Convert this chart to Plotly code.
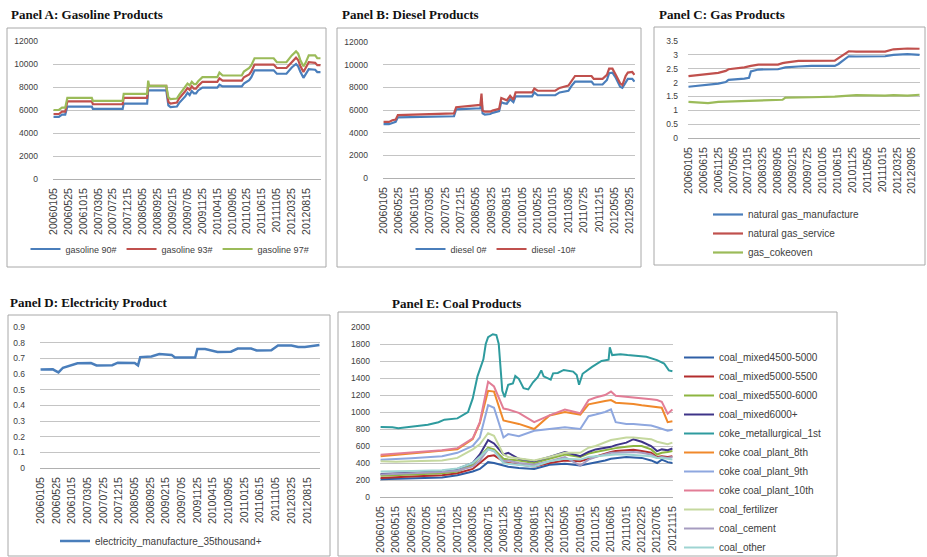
import plotly.graph_objects as go

W, H = 927, 557


def dekads(first, last):
    """Category labels of the dekadal observation dates (05, 15, 25 of each month)."""
    out = []
    for k in range(first, last + 1):
        yr = 2006 + k // 36
        r = k % 36
        out.append(f"{yr}{r // 3 + 1:02d}{(5, 15, 25)[r % 3]:02d}")
    return out


# ---------------- categories and tick labels ----------------
cats_A = dekads(0, 251)
gap_B = ["20080515", "20080525", "20080605", "20080615", "20080625", "20090105", "20090115",
         "20090125", "20090205", "20090215", "20090225", "20090305", "20090315"]
cats_B = dekads(0, 84) + gap_B + dekads(116, 246)
cats_C = dekads(0, 248)
cats_D = dekads(0, 249)
cats_E = dekads(0, 247)

ticks_A = ["20060105", "20060525", "20061015", "20070305", "20070725", "20071215", "20080505",
           "20080925", "20090215", "20090705", "20091125", "20100415", "20100905", "20110125",
           "20110615", "20111105", "20120325", "20120815"]
ticks_B = ["20060105", "20060525", "20061015", "20070305", "20070725", "20071215", "20080505",
           "20090325", "20090815", "20100105", "20100525", "20101015", "20110305", "20110725",
           "20111215", "20120505", "20120925"]
ticks_C = ["20060105", "20060615", "20061125", "20070505", "20071015", "20080325", "20080905",
           "20090215", "20090725", "20100105", "20100615", "20101125", "20110505", "20111015",
           "20120325", "20120905"]
ticks_D = ticks_A
ticks_E = ["20060105", "20060515", "20060925", "20070205", "20070615", "20071025", "20080305",
           "20080715", "20081125", "20090405", "20090815", "20091225", "20100505", "20100915",
           "20110125", "20110605", "20111015", "20120225", "20120705", "20121115"]

# ---------------- Panel A: gasoline ----------------
gas_dates = ["20060105", "20060225", "20060325", "20060425", "20060515", "20070105", "20070115",
             "20071025", "20071105", "20080615", "20080625", "20080705", "20081215", "20090105",
             "20090125", "20090325", "20090415", "20090615", "20090705", "20090725", "20090815",
             "20090905", "20090925", "20091015", "20091125", "20100415", "20100505", "20100605",
             "20101205", "20101225", "20110215", "20110305", "20110405", "20111005", "20111105",
             "20120205", "20120305", "20120325", "20120505", "20120525", "20120615", "20120715",
             "20120805", "20120905", "20121105", "20121125", "20121225"]
gasoline_90 = [5400, 5400, 5600, 5600, 6300, 6300, 6100, 6100, 6550, 6550, 7700, 7700, 7700, 6400,
               6250, 6300, 6600, 7200, 7500, 7300, 7650, 7450, 7450, 7700, 7950, 7950, 8200, 8050,
               8050, 8300, 8600, 8850, 9450, 9450, 9150, 9150, 9450, 9700, 10000, 9800, 9350, 8800,
               9100, 9550, 9500, 9300, 9300]
gasoline_93 = [5650, 5650, 5850, 5850, 6750, 6750, 6500, 6500, 7050, 7050, 8100, 8100, 8100, 6700,
               6550, 6650, 7000, 7650, 7900, 7750, 8050, 7850, 7850, 8100, 8450, 8450, 8750, 8550,
               8550, 8850, 9100, 9350, 9950, 9950, 9650, 9650, 9950, 10200, 10550, 10350, 9850,
               9300, 9600, 10150, 10100, 9900, 9900]
gasoline_97 = [6000, 6000, 6200, 6200, 7050, 7050, 6800, 6800, 7400, 7400, 8550, 8100, 8100, 7100,
               6950, 7000, 7300, 8000, 8300, 8150, 8450, 8250, 8250, 8500, 8850, 8850, 9250, 9000,
               9000, 9350, 9650, 9900, 10500, 10500, 10150, 10150, 10500, 10750, 11100, 10900,
               10350, 9800, 10100, 10750, 10750, 10500, 10500]

# ---------------- Panel B: diesel ----------------
diesel_dates = ["20060105", "20060225", "20060325", "20060425", "20060515", "20071015", "20071105",
                "20080615", "20080625", "20090105", "20090125", "20090315", "20090405", "20090605",
                "20090625", "20090715", "20090815", "20090915", "20091015", "20091105", "20100405",
                "20100425", "20100525", "20101105", "20101215", "20110305", "20110405", "20110505",
                "20111005", "20111025", "20120115", "20120225", "20120315", "20120415", "20120515",
                "20120625", "20120715", "20120815", "20120905", "20121015", "20121105"]
diesel_0 = [4750, 4750, 4850, 4950, 5350, 5450, 6050, 6150, 7000, 5700, 5600, 5650, 5750, 5900,
            6700, 6600, 6550, 6950, 6700, 7200, 7200, 7550, 7300, 7300, 7550, 7700, 8150, 8500,
            8500, 8250, 8250, 8650, 9250, 9300, 8850, 8050, 7950, 8500, 8750, 8750, 8500]
diesel_m10 = [4950, 4950, 5100, 5150, 5550, 5700, 6250, 6450, 7450, 5950, 5850, 5850, 5950, 6100,
              7050, 6950, 6850, 7250, 6900, 7550, 7550, 7900, 7700, 7700, 7950, 8150, 8600, 9000,
              9000, 8750, 8750, 9100, 9650, 9650, 9100, 8350, 8200, 9000, 9300, 9350, 9100]

# ---------------- Panel C: gas ----------------
ng_dates = ["20060105", "20060805", "20061125", "20070215", "20070315", "20070905", "20071025",
            "20071115", "20080205", "20080905", "20081025", "20081125", "20090415", "20090905",
            "20100515", "20100625", "20101015", "20110105", "20111115", "20120215", "20120715",
            "20121125"]
ng_manufacture = [1.85, 1.92, 1.96, 2.02, 2.10, 2.14, 2.17, 2.40, 2.47, 2.48, 2.52, 2.55, 2.58, 2.60,
                  2.60, 2.67, 2.95, 2.94, 2.95, 3.00, 3.03, 3.00]
ng_service = [2.23, 2.30, 2.35, 2.42, 2.48, 2.55, 2.57, 2.60, 2.65, 2.65, 2.70, 2.72, 2.78, 2.79,
              2.79, 2.88, 3.13, 3.12, 3.12, 3.20, 3.23, 3.22]
gas_cokeoven = [1.30, 1.26, 1.30, 1.31, 1.32, 1.34, 1.34, 1.34, 1.35, 1.36, 1.38, 1.46, 1.46, 1.47,
                1.49, 1.50, 1.53, 1.55, 1.53, 1.55, 1.53, 1.56]

# ---------------- Panel D: electricity ----------------
elec_dates = ["20060105", "20060425", "20060515", "20060615", "20060725", "20060925", "20061205",
              "20070405", "20070525", "20071015", "20071205", "20080505", "20080605", "20080625",
              "20081005", "20081215", "20090405", "20090505", "20091105", "20091125", "20100205",
              "20100525", "20100925", "20101125", "20110325", "20110515", "20110925", "20111125",
              "20120325", "20120525", "20120725", "20121205"]
electricity = [0.628, 0.630, 0.622, 0.610, 0.640, 0.655, 0.668, 0.670, 0.655, 0.656, 0.672, 0.670,
               0.655, 0.708, 0.712, 0.728, 0.722, 0.705, 0.705, 0.760, 0.760, 0.740, 0.742, 0.762,
               0.762, 0.750, 0.752, 0.782, 0.782, 0.772, 0.772, 0.785]

# ---------------- Panel E: coal ----------------
coal_dates = ["20060105", "20060515", "20060925", "20070615", "20071025", "20080305", "20080505",
              "20080715", "20080905", "20081125", "20090105", "20090405", "20090815", "20091225",
              "20100505", "20100915", "20101125", "20110125", "20110415", "20110605", "20110715",
              "20111015", "20111215", "20120225", "20120515", "20120705", "20120815", "20121005",
              "20121115"]
coal_mixed4500 = [210, 215, 220, 230, 255, 300, 330, 410, 400, 370, 355, 340, 330, 380, 390, 370,
                  390, 400, 430, 450, 455, 470, 465, 460, 430, 400, 440, 410, 400]
coal_mixed5000 = [225, 230, 240, 255, 280, 330, 400, 480, 490, 420, 400, 380, 360, 400, 430, 420,
                  450, 480, 510, 530, 540, 550, 555, 540, 520, 470, 480, 470, 480]
coal_mixed5500 = [250, 255, 265, 280, 300, 380, 470, 580, 560, 450, 440, 430, 400, 450, 500, 470,
                  510, 530, 550, 570, 575, 590, 600, 600, 560, 500, 520, 530, 540]
coal_mixed6000 = [270, 275, 285, 305, 330, 400, 500, 670, 630, 500, 520, 450, 420, 470, 530, 480,
                  530, 560, 580, 590, 610, 640, 680, 650, 600, 540, 560, 550, 570]
coke_plant_8th = [480, 495, 510, 540, 560, 680, 870, 1250, 1240, 900, 890, 860, 800, 960, 1000, 970,
                  1090, 1110, 1130, 1140, 1110, 1100, 1095, 1080, 1070, 1060, 1050, 880, 890]
coke_plant_9th = [437, 445, 455, 480, 520, 600, 700, 1080, 1050, 700, 740, 715, 780, 800, 820, 800,
                  950, 970, 1000, 1030, 880, 860, 860, 850, 840, 820, 800, 780, 790]
coke_plant_10th = [496, 510, 525, 550, 575, 690, 880, 1355, 1300, 1040, 1030, 990, 880, 960, 1030,
                   985, 1140, 1170, 1200, 1240, 1190, 1180, 1170, 1160, 1150, 1140, 1120, 980, 1030]
coal_fertilizer = [420, 415, 420, 430, 460, 560, 620, 750, 720, 500, 470, 450, 430, 470, 520, 520,
                   580, 600, 640, 670, 680, 700, 700, 690, 680, 650, 640, 620, 640]
coal_cement = [265, 270, 280, 295, 310, 360, 430, 560, 540, 420, 430, 400, 380, 420, 470, 370, 440,
               470, 500, 520, 520, 530, 530, 520, 500, 460, 470, 460, 470]
coal_other = [300, 300, 305, 315, 335, 400, 470, 560, 540, 400, 390, 380, 360, 420, 450, 440, 470,
              480, 490, 500, 500, 500, 495, 490, 480, 460, 460, 450, 440]

coke_dates = ["20060105", "20060415", "20060605", "20060925", "20070215", "20070515", "20070705",
              "20071025", "20071215", "20080125", "20080305", "20080415", "20080605", "20080625",
              "20080715", "20080825", "20080925", "20081015", "20081115", "20081205", "20090105",
              "20090215", "20090305", "20090405", "20090515", "20090625", "20090805", "20090915",
              "20091015", "20091105", "20100105", "20100125", "20100305", "20100425", "20100715",
              "20100815", "20100905", "20101005", "20101225", "20110315", "20110515", "20110525",
              "20110615", "20110825", "20111025", "20120405", "20120705", "20120905", "20121015",
              "20121115"]
coke_metallurgical = [825, 820, 808, 830, 850, 880, 910, 925, 965, 1000, 1160, 1420, 1620, 1800,
                      1880, 1915, 1905, 1800, 1250, 1175, 1320, 1335, 1425, 1390, 1280, 1265, 1350,
                      1410, 1490, 1420, 1380, 1455, 1460, 1495, 1475, 1435, 1320, 1450, 1530, 1600,
                      1615, 1760, 1670, 1680, 1670, 1650, 1610, 1570, 1490, 1480]

# ---------------- colours ----------------
BLUE, RED, GREEN = "#4A7EBB", "#C0504D", "#9BBB59"
coal_colors = {
    "coal_mixed4500-5000": "#2F5FA6",
    "coal_mixed5000-5500": "#B32D2D",
    "coal_mixed5500-6000": "#8DB540",
    "coal_mixed6000+": "#3E3488",
    "coke_metallurgical_1st": "#2E9B9E",
    "coke coal_plant_8th": "#F0892B",
    "coke coal_plant_9th": "#8EA7DF",
    "coke coal_plant_10th": "#E27D96",
    "coal_fertilizer": "#C5D89E",
    "coal_cement": "#A69CC0",
    "coal_other": "#9ED4D2",
}

fig = go.Figure()


def add(x, y, name, color, xa, ya, legend, width=2.2):
    fig.add_trace(go.Scatter(x=x, y=y, name=name, mode="lines", xaxis=xa, yaxis=ya,
                             legend=legend, line=dict(color=color, width=width),
                             hoverinfo="skip"))


add(gas_dates, gasoline_90, "gasoline 90#", BLUE, "x", "y", "legend")
add(gas_dates, gasoline_93, "gasoline 93#", RED, "x", "y", "legend")
add(gas_dates, gasoline_97, "gasoline 97#", GREEN, "x", "y", "legend")

add(diesel_dates, diesel_0, "diesel 0#", BLUE, "x2", "y2", "legend2")
add(diesel_dates, diesel_m10, "diesel -10#", RED, "x2", "y2", "legend2")

add(ng_dates, ng_manufacture, "natural gas_manufacture", BLUE, "x3", "y3", "legend3")
add(ng_dates, ng_service, "natural gas_service", RED, "x3", "y3", "legend3")
add(ng_dates, gas_cokeoven, "gas_cokeoven", GREEN, "x3", "y3", "legend3")

add(elec_dates, electricity, "electricity_manufacture_35thousand+", BLUE, "x4", "y4", "legend4",
    width=2.5)

coal_series = [
    ("coal_mixed4500-5000", coal_dates, coal_mixed4500),
    ("coal_mixed5000-5500", coal_dates, coal_mixed5000),
    ("coal_mixed5500-6000", coal_dates, coal_mixed5500),
    ("coal_mixed6000+", coal_dates, coal_mixed6000),
    ("coke_metallurgical_1st", coke_dates, coke_metallurgical),
    ("coke coal_plant_8th", coal_dates, coke_plant_8th),
    ("coke coal_plant_9th", coal_dates, coke_plant_9th),
    ("coke coal_plant_10th", coal_dates, coke_plant_10th),
    ("coal_fertilizer", coal_dates, coal_fertilizer),
    ("coal_cement", coal_dates, coal_cement),
    ("coal_other", coal_dates, coal_other),
]
for name, xs, ys in coal_series:
    add(xs, ys, name, coal_colors[name], "x5", "y5", "legend5", width=2.0)


# ---------------- layout ----------------
def xd(a, b):
    return [a / W, b / W]


def yd(top, bottom):
    return [1 - bottom / H, 1 - top / H]


TICK = dict(family="Liberation Sans", size=8.5, color="#404040")
DATE = dict(family="Liberation Sans", size=10.5, color="#404040")
LEG = dict(family="Liberation Sans", size=10, color="#404040")


def xaxis(dom, cats, ticks, anchor):
    return dict(domain=dom, anchor=anchor, type="category", categoryorder="array",
                categoryarray=cats, range=[-0.5, len(cats) - 0.5], tickmode="array",
                tickvals=ticks, ticktext=ticks, tickangle=-90, tickfont=DATE, showgrid=False,
                zeroline=False, showline=True, linecolor="#B0B0B0", linewidth=1, ticks="",
                ticklabelstandoff=4, fixedrange=True)


def yaxis(dom, rng, dtick, anchor, fmt="", standoff=14):
    return dict(domain=dom, anchor=anchor, range=rng, dtick=dtick, tick0=0, showgrid=True,
                gridcolor="#C4C4C4", gridwidth=1, zeroline=False, showline=False, ticks="",
                tickformat=fmt, tickfont=TICK, ticklabelstandoff=standoff, fixedrange=True)


boxes = [(7, 28, 326, 267), (337, 28, 641, 267), (654, 27, 925, 265), (8, 315, 330, 556),
         (338, 312, 837, 556)]
shapes = [dict(type="rect", xref="paper", yref="paper", x0=a / W, x1=c / W, y0=1 - d / H,
               y1=1 - b / H, line=dict(color="#A8A8A8", width=1), fillcolor="rgba(0,0,0,0)",
               layer="below") for a, b, c, d in boxes]

titles = [("Panel A: Gasoline Products", 9, 14), ("Panel B: Diesel Products", 340, 14),
          ("Panel C: Gas Products", 657, 14), ("Panel D: Electricity Product", 8, 302),
          ("Panel E: Coal Products", 390, 303)]
annotations = [dict(text=f"<b>{t}</b>", x=x / W, y=1 - y / H, xref="paper", yref="paper",
                    xanchor="left", yanchor="middle", showarrow=False,
                    font=dict(family="Liberation Serif", size=13, color="#111111"))
               for t, x, y in titles]

fig.update_layout(
    width=W, height=H, margin=dict(l=0, r=0, t=0, b=0, autoexpand=False), autosize=False,
    paper_bgcolor="white", plot_bgcolor="white",
    xaxis=xaxis(xd(53, 321), cats_A, ticks_A, "y"),
    yaxis=yaxis(yd(41, 179), [0, 12000], 2000, "x", "d"),
    xaxis2=xaxis(xd(383, 635), cats_B, ticks_B, "y2"),
    yaxis2=yaxis(yd(42, 178), [0, 12000], 2000, "x2", "d"),
    xaxis3=xaxis(xd(688, 920), cats_C, ticks_C, "y3"),
    yaxis3=yaxis(yd(41, 138), [0, 3.5], 0.5, "x3", "", 9),
    xaxis4=xaxis(xd(40, 320), cats_D, ticks_D, "y4"),
    yaxis4=yaxis(yd(327, 468), [0, 0.9], 0.1, "x4", "", 14),
    xaxis5=xaxis(xd(380, 673), cats_E, ticks_E, "y5"),
    yaxis5=yaxis(yd(327, 497), [0, 2000], 200, "x5", "d", 9),
    legend=dict(orientation="h", x=170 / W, xanchor="center", y=1 - 249 / H, yanchor="middle",
                font=dict(family="Liberation Sans", size=9, color="#404040"),
                bgcolor="rgba(0,0,0,0)"),
    legend2=dict(orientation="h", x=496 / W, xanchor="center", y=1 - 249 / H, yanchor="middle",
                 font=dict(family="Liberation Sans", size=9, color="#404040"),
                 bgcolor="rgba(0,0,0,0)"),
    legend3=dict(orientation="v", x=708 / W, xanchor="left", y=1 - 200 / H, yanchor="top",
                 font=LEG, bgcolor="rgba(0,0,0,0)"),
    legend4=dict(orientation="v", x=55 / W, xanchor="left", y=1 - 541 / H, yanchor="middle",
                 font=LEG, bgcolor="rgba(0,0,0,0)"),
    legend5=dict(orientation="v", x=679 / W, xanchor="left", y=1 - 343 / H, yanchor="top",
                 font=LEG, bgcolor="rgba(0,0,0,0)"),
    shapes=shapes, annotations=annotations, showlegend=True,
)

fig.write_html("out.html", config={"displayModeBar": False},
               post_script="document.body.style.margin='0';")
